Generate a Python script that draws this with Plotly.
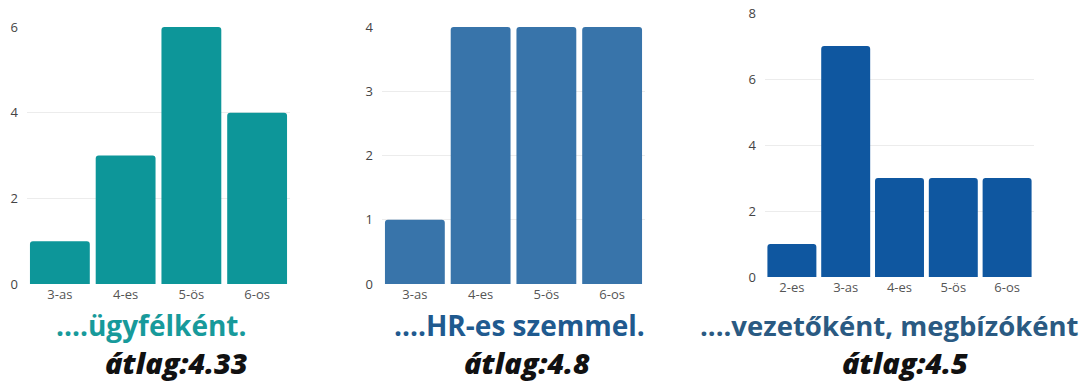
import plotly.graph_objects as go

W, H = 1089, 381

cats1 = ["3-as", "4-es", "5-ös", "6-os"]
vals1 = [1, 3, 6, 4]
cats2 = ["3-as", "4-es", "5-ös", "6-os"]
vals2 = [1, 4, 4, 4]
cats3 = ["2-es", "3-as", "4-es", "5-ös", "6-os"]
vals3 = [1, 7, 3, 3, 3]

titles = ["....ügyfélként.", "....HR-es szemmel.", "....vezetőként, megbízóként"]
averages = ["átlag:4.33", "átlag:4.8", "átlag:4.5"]

bar_colors = ["#0d9699", "#3874aa", "#0f57a0"]
title_colors = ["#179a9b", "#1f5a8f", "#2a5a82"]

fig = go.Figure()

def px_x(a, b):
    return [a / W, b / W]

def px_y(bottom, top):
    return [(H - bottom) / H, (H - top) / H]

specs = [
    (cats1, vals1, "x", "y", px_x(27, 290), px_y(284, 27), [0, 6], 2),
    (cats2, vals2, "x2", "y2", px_x(382, 645), px_y(284, 27), [0, 4], 1),
    (cats3, vals3, "x3", "y3", px_x(765, 1034), px_y(277, 13), [0, 8], 2),
]

for i, (cats, vals, xa, ya, xd, yd, yr, dt) in enumerate(specs):
    fig.add_trace(go.Bar(x=cats, y=vals, xaxis=xa, yaxis=ya,
                         marker=dict(color=bar_colors[i], cornerradius=3, line=dict(width=0)),
                         showlegend=False, hoverinfo="x+y"))
    sfx = "" if i == 0 else str(i + 1)
    fig.layout["xaxis" + sfx] = dict(domain=xd, anchor="y" + sfx, showgrid=False,
                                     zeroline=False, showline=False, automargin=False,
                                     tickfont=dict(size=13, color="#555", family="Open Sans"),
                                     ticks="", ticklabelstandoff=1, fixedrange=True)
    fig.layout["yaxis" + sfx] = dict(domain=yd, anchor="x" + sfx, range=yr, dtick=dt,
                                     showgrid=True, gridcolor="#ececec", gridwidth=1,
                                     zeroline=False, showline=False, automargin=False,
                                     tickfont=dict(size=13, color="#444", family="Open Sans"),
                                     ticks="", ticklabelstandoff=8)

fig.update_layout(bargap=0.09)

title_x = [151 / W, 519 / W, 889 / W]
title_sizes = [28, 28, 27.5]
avg_x = [176 / W, 527 / W, 905 / W]
for i in range(3):
    fig.add_annotation(text=titles[i], x=title_x[i], y=(H - 325) / H, xref="paper", yref="paper",
                       showarrow=False, xanchor="center", yanchor="middle",
                       font=dict(size=title_sizes[i], color=title_colors[i], family="Open Sans", weight="bold"))
    fig.add_annotation(text="<i>" + averages[i] + "</i>", x=avg_x[i], y=(H - 362) / H,
                       xref="paper", yref="paper", showarrow=False,
                       xanchor="center", yanchor="middle",
                       font=dict(size=29, color="#111", family="Open Sans", weight=800))

fig.update_layout(width=W, height=H, margin=dict(l=0, r=0, t=0, b=0),
                  paper_bgcolor="white", plot_bgcolor="white")

fig.write_html("out.html", config={"displayModeBar": False},
               post_script="document.body.style.margin='0';document.body.style.overflow='hidden';")
